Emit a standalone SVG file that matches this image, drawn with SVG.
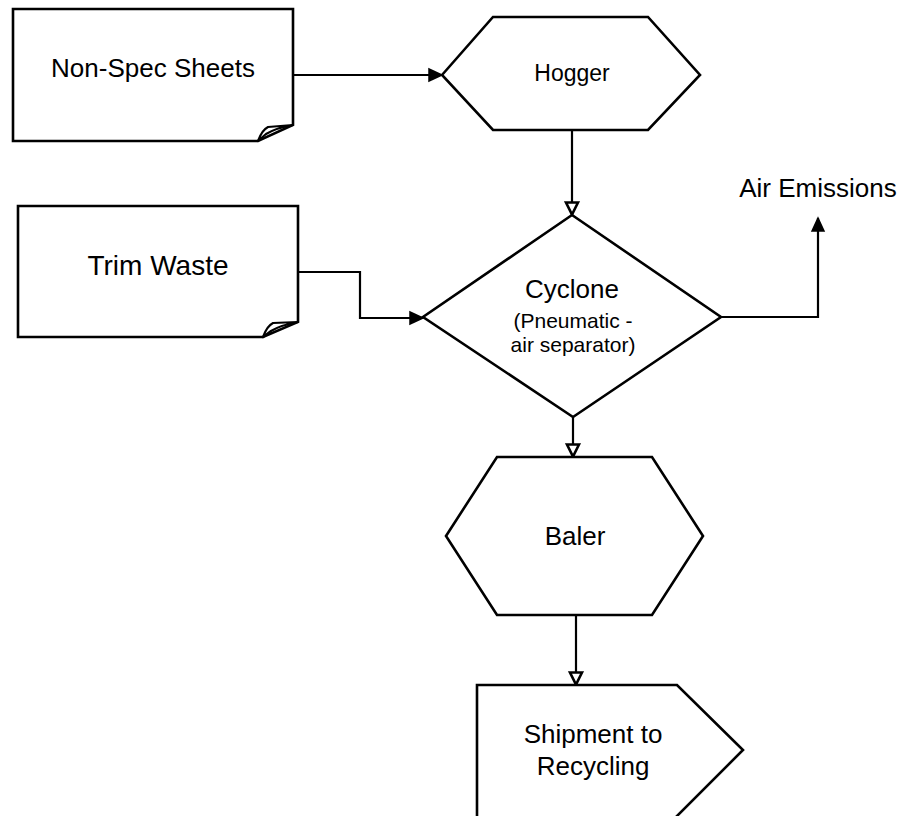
<svg xmlns="http://www.w3.org/2000/svg" width="903" height="816" viewBox="0 0 903 816">
  <style>
    .shape { fill: #fff; stroke: #000; stroke-width: 2.6; stroke-linejoin: miter; }
    .fold { fill: #fff; stroke: #000; stroke-width: 2.2; stroke-linejoin: round; }
    .link { fill: none; stroke: #000; stroke-width: 2.2; }
    text { font-family: "Liberation Sans", Arial, sans-serif; fill: #000; text-anchor: middle; }
    .big { font-size: 26px; }
    .wide { font-size: 28px; }
    .mid { font-size: 23px; }
    .small { font-size: 21px; }
  </style>
  <defs>
    <marker id="arrowSolid" markerUnits="userSpaceOnUse" markerWidth="18" markerHeight="16" refX="14" refY="7" orient="auto" overflow="visible">
      <path d="M1,1 L14,7 L1,13 z" fill="#000" stroke="#000" stroke-width="1.5"/>
    </marker>
    <marker id="arrowOpen" markerUnits="userSpaceOnUse" markerWidth="18" markerHeight="16" refX="14" refY="7" orient="auto" overflow="visible">
      <path d="M1.5,1 L13.5,7 L1.5,13 z" fill="#fff" stroke="#000" stroke-width="2.6" stroke-linejoin="miter"/>
    </marker>
  </defs>

  <rect width="903" height="816" fill="#fff"/>

  <!-- connectors -->
  <g id="connectors">
    <path class="link" d="M293,75 L442,75" marker-end="url(#arrowSolid)"/>
    <path class="link" d="M572,130 L572,215" marker-end="url(#arrowOpen)"/>
    <path class="link" d="M298,272 L360,272 L360,318 L423,318" marker-end="url(#arrowSolid)"/>
    <path class="link" d="M721,317 L818,317 L818,218" marker-end="url(#arrowSolid)"/>
    <path class="link" d="M573,417 L573,457" marker-end="url(#arrowOpen)"/>
    <path class="link" d="M576,615 L576,685" marker-end="url(#arrowOpen)"/>
  </g>

  <!-- document node: Non-Spec Sheets -->
  <g id="node-nonspec">
    <path class="shape" d="M13,9 L293,9 L293,125 L258,141 L13,141 Z"/>
    <path class="fold" d="M258,141 Q262,130 268,127 L293,125 Q276,128 266,134 Z"/>
    <text class="big" x="153" y="77">Non-Spec Sheets</text>
  </g>

  <!-- process node: Hogger -->
  <g id="node-hogger">
    <polygon class="shape" points="442,75 493,17 648,17 700,75 648,130 493,130"/>
    <text class="mid" x="572" y="81">Hogger</text>
  </g>

  <!-- document node: Trim Waste -->
  <g id="node-trim">
    <path class="shape" d="M18,206 L298,206 L298,322 L263,337 L18,337 Z"/>
    <path class="fold" d="M263,337 Q267,326 273,323 L298,322 Q281,325 271,331 Z"/>
    <text class="wide" x="158" y="275">Trim Waste</text>
  </g>

  <!-- decision node: Cyclone -->
  <g id="node-cyclone">
    <polygon class="shape" points="572,215 721,317 573,417 423,317"/>
    <text class="big" x="572" y="298">Cyclone</text>
    <text class="small" x="573" y="328">(Pneumatic -</text>
    <text class="small" x="573" y="352">air separator)</text>
  </g>

  <!-- output label: Air Emissions -->
  <g id="node-air">
    <text class="big" x="818" y="197">Air Emissions</text>
  </g>

  <!-- process node: Baler -->
  <g id="node-baler">
    <polygon class="shape" points="446,536 497,457 652,457 703,536 652,615 497,615"/>
    <text class="big" x="575" y="545">Baler</text>
  </g>

  <!-- off-page node: Shipment to Recycling -->
  <g id="node-shipment">
    <polygon class="shape" points="477,685 677,685 743,750 673,820 477,820"/>
    <text class="big" x="593" y="743">Shipment to</text>
    <text class="big" x="593" y="775">Recycling</text>
  </g>
</svg>
